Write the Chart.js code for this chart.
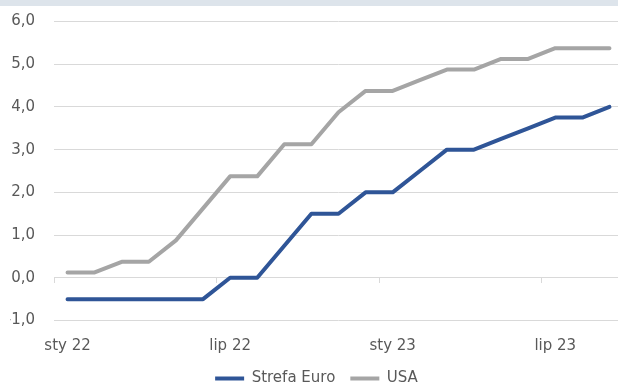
<!DOCTYPE html>
<html><head><meta charset="utf-8">
<script src="https://cdn.jsdelivr.net/npm/chart.js@4/dist/chart.umd.min.js"></script>
<style>
html,body{margin:0;padding:0;width:618px;height:384px;overflow:hidden;background:#fff;}
#wrap{position:absolute;left:0;top:0;width:636px;height:396px;}
canvas{display:block;}
</style></head><body>
<div id="wrap"><canvas id="c" width="636" height="396"></canvas></div>
<script>
// Monthly categories, Jan 2022 - Sep 2023
const categories = ["sty 22","lut 22","mar 22","kwi 22","maj 22","cze 22","lip 22","sie 22","wrz 22","paź 22","lis 22","gru 22",
                    "sty 23","lut 23","mar 23","kwi 23","maj 23","cze 23","lip 23","sie 23","wrz 23"];
const tickLabelStep = 6;           // a label every 6 months
const yMin = -1, yMax = 6, yStep = 1;
const seriesNames = ["Strefa Euro", "USA"];
const euroValues = [-0.5,-0.5,-0.5,-0.5,-0.5,-0.5, 0, 0, 0.75, 1.5, 1.5, 2.0,
                    2.0, 2.5, 3.0, 3.0, 3.25, 3.5, 3.75, 3.75, 4.0];
const usaValues  = [0.125,0.125,0.375,0.375,0.875,1.625,2.375,2.375,3.125,3.125,3.875,4.375,
                    4.375,4.625,4.875,4.875,5.125,5.125,5.375,5.375,5.375];

const TEXT = '#595959', GRID = '#d9d9d9';
Chart.defaults.font.family = "'DejaVu Sans', sans-serif";
Chart.defaults.font.size = 15;
Chart.defaults.color = TEXT;

const topBand = {
  id: 'topBand',
  beforeDraw(chart) {
    const c = chart.ctx; c.save();
    c.fillStyle = '#dde4eb';
    c.fillRect(0, 0, chart.width, 6);
    c.restore();
  }
};

new Chart(document.getElementById('c'), {
  type: 'line',
  data: {
    labels: categories,
    datasets: [
      { label: seriesNames[0], data: euroValues, borderColor: '#2f5597', backgroundColor: '#2f5597',
        borderWidth: 4, pointRadius: 0, tension: 0, fill: false, borderCapStyle: 'round', borderJoinStyle: 'round' },
      { label: seriesNames[1], data: usaValues, borderColor: '#a5a5a5', backgroundColor: '#a5a5a5',
        borderWidth: 4, pointRadius: 0, tension: 0, fill: false, borderCapStyle: 'round', borderJoinStyle: 'round' }
    ]
  },
  options: {
    responsive: false,
    devicePixelRatio: 1,
    animation: false,
    layout: { padding: { top: 21.5, left: 10, right: 13, bottom: 0 } },
    plugins: {
      tooltip: { enabled: false },
      legend: {
        position: 'bottom',
        labels: {
          boxWidth: 29, boxHeight: 4, padding: 15, color: TEXT, font: { size: 15 },
          generateLabels(chart) {
            const items = Chart.defaults.plugins.legend.labels.generateLabels(chart);
            items.forEach(it => { it.lineWidth = 0; it.fillStyle = it.strokeStyle; });
            return items;
          }
        }
      }
    },
    scales: {
      x: {
        type: 'category',
        offset: true,
        afterFit(scale) { scale.height = 35.5; },
        grid: { display: false, drawTicks: false },
        border: { display: false },
        ticks: {
          autoSkip: false, maxRotation: 0, minRotation: 0, padding: 18.5,
          font: { size: 15, lineHeight: 1 },
          callback(v, i) { return i % tickLabelStep === 0 ? categories[i] : ''; }
        }
      },
      x2: {
        type: 'category',
        position: { y: 0 },
        offset: true,
        grid: {
          offset: true, drawOnChartArea: false, drawTicks: true, tickLength: 5,
          color: (ctx) => (ctx.index % tickLabelStep === 0 ? GRID : 'rgba(0,0,0,0)')
        },
        border: { display: true, color: GRID, width: 1 },
        ticks: { display: false }
      },
      y: {
        min: yMin, max: yMax,
        afterFit(scale) { scale.width = 44; },
        grid: { color: GRID, lineWidth: 1, drawTicks: true, tickLength: 19, tickColor: 'rgba(0,0,0,0)' },
        border: { display: false },
        ticks: {
          stepSize: yStep, padding: 0,
          callback(v) { return v.toFixed(1).replace('.', ','); }
        }
      }
    }
  },
  plugins: [topBand]
});
</script>
</body></html>
